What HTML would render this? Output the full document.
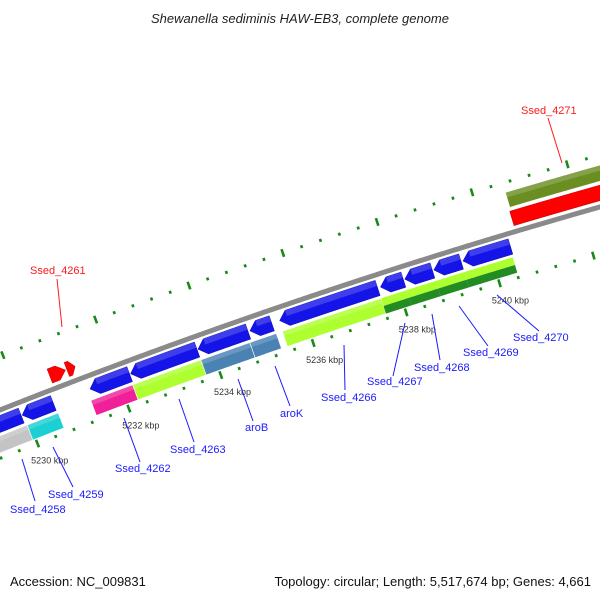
<!DOCTYPE html>
<html><head><meta charset="utf-8"><style>
html,body{margin:0;padding:0;background:#fff;}
svg{display:block;font-family:"Liberation Sans","DejaVu Sans",sans-serif;}
</style></head><body>
<svg id="map" width="600" height="600" viewBox="0 0 600 600" xmlns="http://www.w3.org/2000/svg">
<text x="300" y="23" text-anchor="middle" font-size="13" font-style="italic" fill="#222">Shewanella sediminis HAW-EB3, complete genome</text>
<text x="10" y="586" font-size="13" fill="#111">Accession: NC_009831</text>
<text x="591" y="586" text-anchor="end" font-size="13" fill="#111">Topology: circular; Length: 5,517,674 bp; Genes: 4,661</text>
<g id="plot"></g>
</svg>
<script>
// ---- data (kbp) ----
const revCdsStart = [5229.2, 5229.92, 5231.4, 5232.28, 5233.74, 5234.86, 5235.5, 5237.66, 5238.18, 5238.8, 5239.42];
const revCdsEnd   = [5229.9, 5230.6, 5232.26, 5233.72, 5234.82, 5235.33, 5237.6, 5238.15, 5238.77, 5239.38, 5240.43];
const revCogStart = [5229.0, 5229.94, 5231.33, 5232.24, 5233.72, 5234.78, 5235.48];
const revCogEnd   = [5229.94, 5230.62, 5232.24, 5233.72, 5234.78, 5235.35, 5237.6];
const revCogColor = ["#c4c4c4", "#1ccfd2", "#f0209a", "#adff2f", "#4a82b4", "#4a82b4", "#adff2f"];
const splitStart = [5237.6, 5238.15, 5238.77, 5239.38];
const splitEnd   = [5238.15, 5238.77, 5239.38, 5240.41];
const fwdCdsStart = [5230.73, 5231.1, 5240.62];
const fwdCdsEnd   = [5231.07, 5231.28, 5244.0];
const fwdCogStart = [5240.65];
const fwdCogEnd   = [5244.0];
const tickLabels = [5230, 5232, 5234, 5236, 5238, 5240];
const geneNames = ["Ssed_4258","Ssed_4259","Ssed_4262","Ssed_4263","aroB","aroK","Ssed_4266","Ssed_4267","Ssed_4268","Ssed_4269","Ssed_4270","Ssed_4261","Ssed_4271"];
const geneColor = ["#1a1aff","#1a1aff","#1a1aff","#1a1aff","#1a1aff","#1a1aff","#1a1aff","#1a1aff","#1a1aff","#1a1aff","#1a1aff","#ff1a1a","#ff1a1a"];
// label layout (pixels): text x, text y, line from x,y to x,y
const labelLayout = [
 [10,513,35,501,22,459],[48,498,73,487,53,447],[115,472,140,462,124,418],[170,453,194,442,179,399],
 [245,431,253,421,238,379],[280,417,290,406,275,366],[321,401,345,390,344,345],[367,385,393,376,405,323],
 [414,371,440,360,432,314],[463,356,488,346,459,306],[513,341,539,331,497,295],[30,274,57,279,62,327],[521,114,548,118,562,163]
];
// ---- geometry ----
const CX=2295, CY=6204, R0=6232;
function ang(k){ return (-111.4 + (k-5230)*0.453)*Math.PI/180; }
function pt(k,r){ const a=ang(k); return [CX+r*Math.cos(a), CY+r*Math.sin(a)]; }
function f(p){ return p[0].toFixed(2)+","+p[1].toFixed(2); }
function arc(s,e,r){ const n=Math.max(2,Math.ceil(Math.abs(e-s)/0.05)); const o=[]; for(let i=0;i<=n;i++){o.push(f(pt(s+(e-s)*i/n,r)));} return o; }
function bandPath(s,e,r1,r2){ return "M"+arc(s,e,r2).join(" L")+" L"+arc(e,s,r1).join(" L")+" Z"; }
function arrowPath(s,e,r1,r2,dir){
  const hl=Math.min(0.17,(e-s)*0.6), m=(r1+r2)/2;
  if(dir<0){ return "M"+f(pt(s,m))+" L"+arc(s+hl,e,r2).join(" L")+" L"+arc(e,s+hl,r1).join(" L")+" Z"; }
  return "M"+f(pt(e,m))+" L"+arc(e-hl,s,r2).join(" L")+" L"+arc(s,e-hl,r1).join(" L")+" Z";
}
const NS="http://www.w3.org/2000/svg", g=document.getElementById("plot");
function mk(tag,attrs){ const el=document.createElementNS(NS,tag); for(const k in attrs) el.setAttribute(k,attrs[k]); g.appendChild(el); return el; }
function shade(d,name){ const el=mk("path",{d:d,fill:"#fff","fill-opacity":"0.18"});
  
   }
// backbone
let el=mk("polyline",{points:arc(5228.8,5244.5,R0).join(" "),fill:"none",stroke:"#8a8a8a","stroke-width":5});


// tick rows
for(let i=0;i<=40;i++){
  const k=5228.8+i*0.4; const major=Math.abs(Math.round(k/2)*2-k)<0.05;
  const L=major?4:1.5;
  [R0-45,R0+50].forEach((r,j)=>{
    const t=mk("line",{x1:pt(k,r-L)[0],y1:pt(k,r-L)[1],x2:pt(k,r+L)[0],y2:pt(k,r+L)[1],stroke:"#178a17","stroke-width":2.6});
    
    
  });
}
tickLabels.forEach(k=>{
  const p=pt(k,R0-62);
  const t=mk("text",{x:p[0]+6,y:p[1]+4,"text-anchor":"middle","font-size":9,fill:"#333"});
  t.textContent=k+" kbp";
  
  
});
// reverse CDS
for(let i=0;i<revCdsStart.length;i++){
  const d=arrowPath(revCdsStart[i],revCdsEnd[i],R0-21,R0-5,-1);
  const a=mk("path",{d:d,fill:"#1414e8",stroke:"#0c0cb0","stroke-width":0.5});
  
  
  shade(bandPath(revCdsStart[i]+0.17,revCdsEnd[i],R0-11,R0-5),'cds-highlight');
}
// reverse COG bars
for(let i=0;i<revCogStart.length;i++){
  const b=mk("path",{d:bandPath(revCogStart[i],revCogEnd[i],R0-40,R0-24),fill:revCogColor[i],stroke:"#fff","stroke-width":0.6});
  
  
  shade(bandPath(revCogStart[i],revCogEnd[i],R0-29,R0-24),'cog-highlight');
}
for(let i=0;i<splitStart.length;i++){
  const b1=mk("path",{d:bandPath(splitStart[i],splitEnd[i],R0-32,R0-24),fill:"#adff2f"});
  
  
  const b2=mk("path",{d:bandPath(splitStart[i],splitEnd[i],R0-40,R0-32),fill:"#228b22"});
  
  
}
// forward CDS
for(let i=0;i<fwdCdsStart.length;i++){
  const d=(fwdCdsEnd[i]>5243)?bandPath(fwdCdsStart[i],fwdCdsEnd[i],R0+6,R0+21):arrowPath(fwdCdsStart[i],fwdCdsEnd[i],R0+6,R0+21,1);
  const a=mk("path",{d:d,fill:"#ff0000",stroke:"#c00000","stroke-width":0.5});
  
  
}
for(let i=0;i<fwdCogStart.length;i++){
  const b=mk("path",{d:bandPath(fwdCogStart[i],fwdCogEnd[i],R0+25,R0+40),fill:"#6b8e23"});
  
  
  shade(bandPath(fwdCogStart[i],fwdCogEnd[i],R0+35,R0+40),'cog-highlight');
}
// gene labels
for(let i=0;i<geneNames.length;i++){
  const L=labelLayout[i];
  const ln=mk("line",{x1:L[2],y1:L[3],x2:L[4],y2:L[5],stroke:geneColor[i],"stroke-width":1});
  
  
  const t=mk("text",{x:L[0],y:L[1],"font-size":11,fill:geneColor[i]});
  t.textContent=geneNames[i];
  
  
}
</script>
</body></html>
